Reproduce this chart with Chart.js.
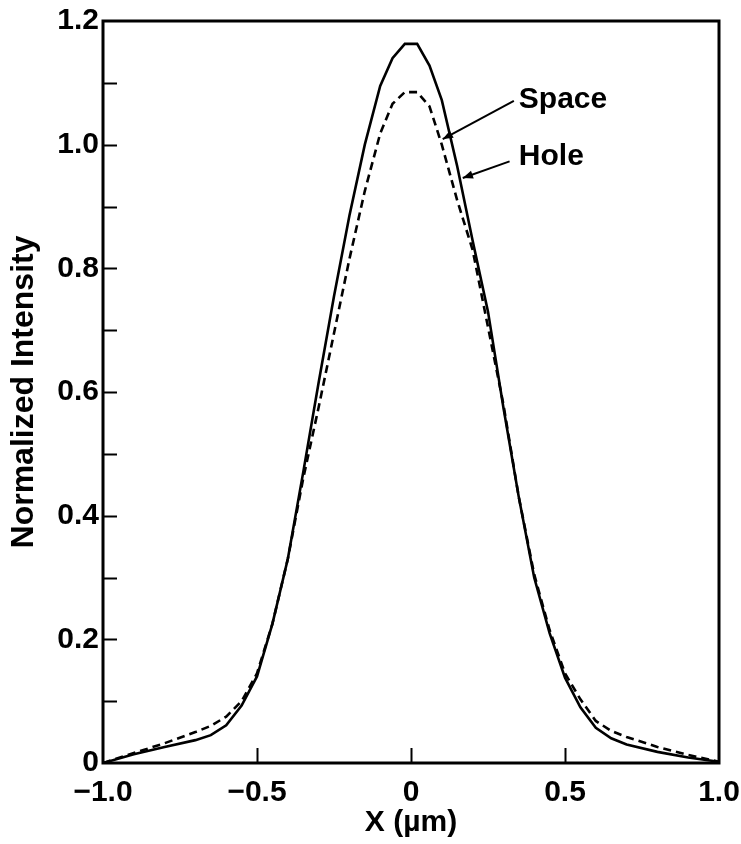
<!DOCTYPE html>
<html>
<head>
<meta charset="utf-8">
<title>Normalized Intensity</title>
<script src="https://cdn.jsdelivr.net/npm/chart.js@4.4.1/dist/chart.umd.min.js"></script>
<style>
  html, body { margin: 0; padding: 0; background: #fff; }
  #wrap { position: relative; width: 741px; height: 844px; }
</style>
</head>
<body>
<div id="wrap"><canvas id="profileChart"></canvas></div>
<script>
// ======================================
// DATA
// ======================================

// Position across the feature (µm)
const xPositions = [
  -1.0, -0.9, -0.8, -0.7, -0.65, -0.6, -0.55, -0.5, -0.45, -0.4, -0.35, -0.3,
  -0.25, -0.2, -0.15, -0.1, -0.06, -0.02, 0.02, 0.06, 0.1, 0.15, 0.2, 0.25,
  0.3, 0.35, 0.4, 0.45, 0.5, 0.55, 0.6, 0.65, 0.7, 0.8, 0.9, 1.0
];

// Aerial image intensity, space pattern (solid)
const spaceIntensity = [
  0.0, 0.014, 0.026, 0.037, 0.045, 0.061, 0.093, 0.14, 0.225, 0.33, 0.47, 0.615,
  0.755, 0.885, 1.0, 1.095, 1.14, 1.163, 1.163, 1.128, 1.072, 0.965, 0.845, 0.73,
  0.575, 0.43, 0.30, 0.21, 0.138, 0.09, 0.057, 0.040, 0.030, 0.018, 0.009, 0.002
];

// Aerial image intensity, hole pattern (dashed)
const holeIntensity = [
  0.0, 0.016, 0.032, 0.05, 0.06, 0.075, 0.10, 0.145, 0.225, 0.33, 0.46, 0.575,
  0.695, 0.815, 0.925, 1.018, 1.066, 1.085, 1.085, 1.062, 1.0, 0.91, 0.83, 0.705,
  0.58, 0.43, 0.305, 0.215, 0.145, 0.103, 0.068, 0.052, 0.042, 0.026, 0.013, 0.002
];

const xTickValues = [-1.0, -0.5, 0, 0.5, 1.0];
const yTickValues = [0, 0.2, 0.4, 0.6, 0.8, 1.0, 1.2];

// Callout labels: text anchor and arrow from text to curve (data units)
const callouts = [
  { text: 'Space', tx: 0.35, ty: 1.072, from: [0.334, 1.071], to: [0.103, 1.009] },
  { text: 'Hole',  tx: 0.35, ty: 0.98,  from: [0.320, 0.973], to: [0.168, 0.946] }
];

// ======================================
// HELPERS
// ======================================

const FONT_FAMILY = '"Liberation Sans", Arial, Helvetica, sans-serif';

function formatTick(value) {
  if (Math.abs(value) < 1e-9) return '0';
  const s = Math.abs(value).toFixed(1);
  return value < 0 ? '\u2212' + s : s;
}

function toPoints(xs, ys) {
  return xs.map((x, i) => ({ x: x, y: ys[i] }));
}

// Frame, inward tick marks and callouts
const framePlugin = {
  id: 'frame',
  afterDatasetsDraw(chart) {
    const { ctx, chartArea, scales } = chart;
    const xs = scales.x, ys = scales.y;
    ctx.save();
    ctx.strokeStyle = '#000';
    ctx.lineCap = 'butt';

    // minor + major ticks on the left axis, every 0.1
    ctx.lineWidth = 2;
    for (let i = 1; i < 12; i++) {
      const py = Math.round(ys.getPixelForValue(i / 10)) + 0.5;
      ctx.beginPath();
      ctx.moveTo(chartArea.left, py);
      ctx.lineTo(chartArea.left + 14, py);
      ctx.stroke();
    }
    // ticks on the bottom axis
    xTickValues.slice(1, -1).forEach(v => {
      const px = Math.round(xs.getPixelForValue(v)) + 0.5;
      ctx.beginPath();
      ctx.moveTo(px, chartArea.bottom);
      ctx.lineTo(px, chartArea.bottom - 15);
      ctx.stroke();
    });

    // box
    ctx.lineWidth = 3;
    ctx.strokeRect(chartArea.left, chartArea.top,
      chartArea.right - chartArea.left, chartArea.bottom - chartArea.top);

    // callouts
    ctx.fillStyle = '#000';
    ctx.font = 'bold 30px ' + FONT_FAMILY;
    ctx.textAlign = 'left';
    ctx.textBaseline = 'middle';
    ctx.lineWidth = 2;
    callouts.forEach(c => {
      ctx.fillText(c.text, xs.getPixelForValue(c.tx), ys.getPixelForValue(c.ty));
      const x0 = xs.getPixelForValue(c.from[0]), y0 = ys.getPixelForValue(c.from[1]);
      const x1 = xs.getPixelForValue(c.to[0]),   y1 = ys.getPixelForValue(c.to[1]);
      ctx.beginPath();
      ctx.moveTo(x0, y0);
      ctx.lineTo(x1, y1);
      ctx.stroke();
      const a = Math.atan2(y1 - y0, x1 - x0);
      const len = 11, half = 0.38;
      ctx.beginPath();
      ctx.moveTo(x1, y1);
      ctx.lineTo(x1 - len * Math.cos(a - half), y1 - len * Math.sin(a - half));
      ctx.lineTo(x1 - len * Math.cos(a + half), y1 - len * Math.sin(a + half));
      ctx.closePath();
      ctx.fill();
    });
    ctx.restore();
  }
};

// ======================================
// CHART
// ======================================

document.addEventListener('DOMContentLoaded', function() {
  const canvas = document.getElementById('profileChart');
  const tickFont = { family: FONT_FAMILY, size: 30, weight: 'bold' };
  const yTitleFont = { family: FONT_FAMILY, size: 32, weight: 'bold' };

  new Chart(canvas.getContext('2d'), {
    type: 'line',
    data: {
      datasets: [
        {
          label: 'Space',
          data: toPoints(xPositions, spaceIntensity),
          borderColor: '#000',
          borderWidth: 2.6,
          pointRadius: 0,
          tension: 0,
          fill: false
        },
        {
          label: 'Hole',
          data: toPoints(xPositions, holeIntensity),
          borderColor: '#000',
          borderWidth: 2.6,
          borderDash: [8, 5],
          pointRadius: 0,
          tension: 0,
          fill: false
        }
      ]
    },
    options: {
      responsive: true,
      maintainAspectRatio: false,
      animation: false,
      layout: { padding: { top: 21, right: 22, left: 0, bottom: 0 } },
      plugins: {
        legend: { display: false },
        tooltip: { enabled: false }
      },
      scales: {
        x: {
          type: 'linear',
          min: -1,
          max: 1,
          afterBuildTicks: scale => { scale.ticks = xTickValues.map(v => ({ value: v })); },
          afterFit: scale => {
            scale.height = 81;
            scale.paddingLeft = 0;
            scale.paddingRight = 0;
          },
          grid: { display: false, drawTicks: false },
          border: { display: false },
          ticks: {
            color: '#000',
            font: tickFont,
            padding: 12,
            maxRotation: 0,
            autoSkip: false,
            callback: value => formatTick(value)
          },
          title: {
            display: true,
            text: 'X (\u00b5m)',
            color: '#000',
            font: tickFont,
            padding: { top: 0, bottom: 3 }
          }
        },
        y: {
          min: 0,
          max: 1.2,
          afterBuildTicks: scale => { scale.ticks = yTickValues.map(v => ({ value: v })); },
          afterFit: scale => {
            scale.width = 103;
            scale.paddingTop = 0;
            scale.paddingBottom = 0;
          },
          grid: { display: false, drawTicks: false },
          border: { display: false },
          ticks: {
            color: '#000',
            font: tickFont,
            padding: 4,
            autoSkip: false,
            callback: value => formatTick(value)
          },
          title: {
            display: true,
            text: 'Normalized Intensity',
            color: '#000',
            font: yTitleFont,
            padding: { top: 5, bottom: 0 }
          }
        }
      }
    },
    plugins: [framePlugin]
  });
});
</script>
</body>
</html>
